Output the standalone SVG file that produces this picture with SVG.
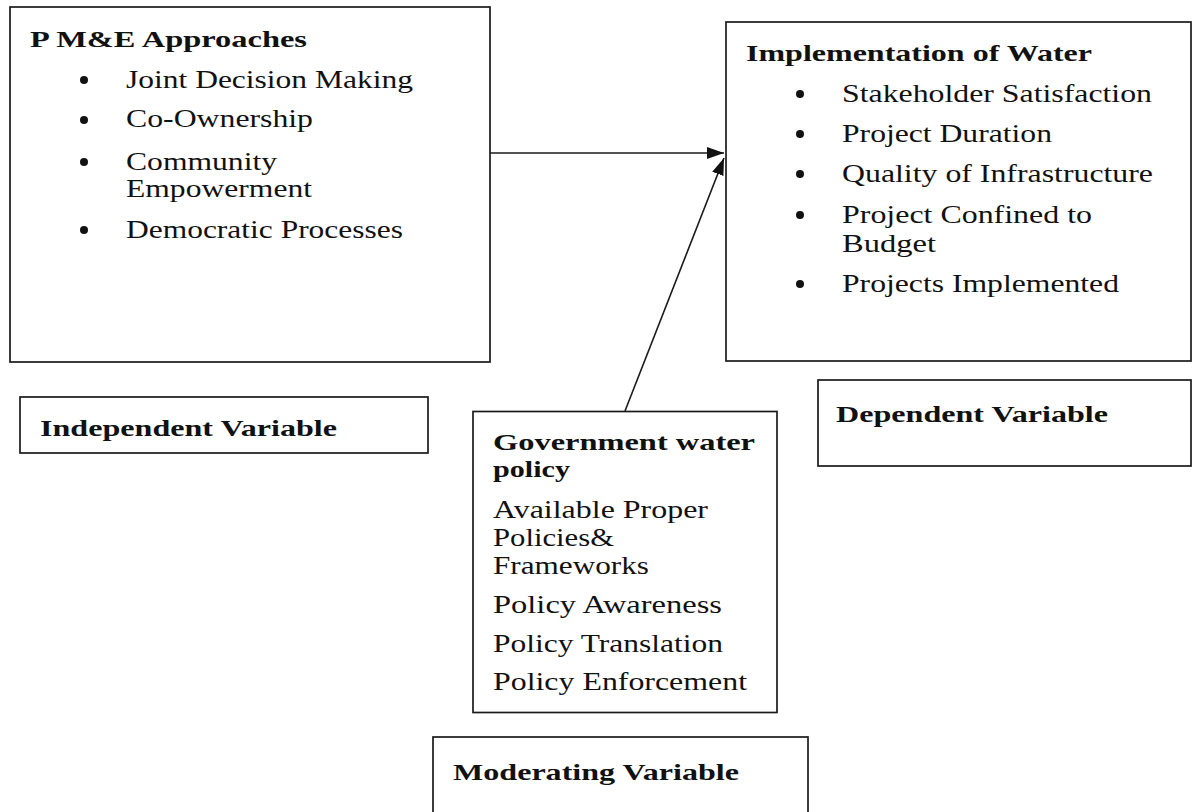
<svg xmlns="http://www.w3.org/2000/svg" width="1193" height="812" viewBox="0 0 1193 812">
<style>
.box{fill:#fff;stroke:#1a1a1a;stroke-width:1.7}
.t{font-family:"Liberation Serif","Times New Roman",serif;font-size:24.5px;fill:#111}
.b{font-family:"Liberation Serif","Times New Roman",serif;font-size:23px;font-weight:bold;fill:#111}
.dot{fill:#111}
.ln{stroke:#1a1a1a;stroke-width:1.6;fill:none}
</style>
<defs>
<marker id="ah" markerUnits="userSpaceOnUse" markerWidth="18" markerHeight="12" refX="17" refY="6" orient="auto">
<path d="M0,0 L17,6 L0,12 Z" fill="#111"/>
</marker>
</defs>
<rect width="1193" height="812" fill="#fff"/>

<g id="pme">
<rect class="box" x="10" y="7" width="480" height="355"/>
<text class="b" x="30" y="47" textLength="277" lengthAdjust="spacingAndGlyphs">P M&amp;E Approaches</text>
<circle class="dot" cx="84" cy="80" r="4"/>
<circle class="dot" cx="84" cy="120" r="4"/>
<circle class="dot" cx="84" cy="162" r="4"/>
<circle class="dot" cx="84" cy="230" r="4"/>
<text class="t" x="126" y="87.5" textLength="287" lengthAdjust="spacingAndGlyphs">Joint Decision Making</text>
<text class="t" x="126" y="127" textLength="187" lengthAdjust="spacingAndGlyphs">Co-Ownership</text>
<text class="t" x="126" y="169.5" textLength="151" lengthAdjust="spacingAndGlyphs">Community</text>
<text class="t" x="126" y="196.5" textLength="186" lengthAdjust="spacingAndGlyphs">Empowerment</text>
<text class="t" x="126" y="237.5" textLength="277" lengthAdjust="spacingAndGlyphs">Democratic Processes</text>
</g>

<g id="impl">
<rect class="box" x="726" y="22" width="465" height="339"/>
<text class="b" x="746" y="61" textLength="346" lengthAdjust="spacingAndGlyphs">Implementation  of Water</text>
<circle class="dot" cx="800" cy="94" r="4"/>
<circle class="dot" cx="800" cy="134" r="4"/>
<circle class="dot" cx="800" cy="174" r="4"/>
<circle class="dot" cx="800" cy="215" r="4"/>
<circle class="dot" cx="800" cy="284" r="4"/>
<text class="t" x="842" y="101.5" textLength="310" lengthAdjust="spacingAndGlyphs">Stakeholder Satisfaction</text>
<text class="t" x="842" y="141.5" textLength="210" lengthAdjust="spacingAndGlyphs">Project Duration</text>
<text class="t" x="842" y="181.5" textLength="311" lengthAdjust="spacingAndGlyphs">Quality of Infrastructure</text>
<text class="t" x="842" y="223" textLength="250" lengthAdjust="spacingAndGlyphs">Project Confined to</text>
<text class="t" x="842" y="251.5" textLength="94" lengthAdjust="spacingAndGlyphs">Budget</text>
<text class="t" x="842" y="291.5" textLength="277" lengthAdjust="spacingAndGlyphs">Projects Implemented</text>
</g>

<g id="indep">
<rect class="box" x="20" y="397" width="408" height="56"/>
<text class="b" x="40" y="436" textLength="297" lengthAdjust="spacingAndGlyphs">Independent Variable</text>
</g>

<g id="dep">
<rect class="box" x="818" y="380" width="373" height="86"/>
<text class="b" x="836" y="422" textLength="272" lengthAdjust="spacingAndGlyphs">Dependent Variable</text>
</g>

<g id="gov">
<rect class="box" x="473" y="411.5" width="304" height="301"/>
<text class="b" x="493" y="450" textLength="262" lengthAdjust="spacingAndGlyphs">Government  water</text>
<text class="b" x="493" y="477" textLength="77" lengthAdjust="spacingAndGlyphs">policy</text>
<text class="t" x="493" y="518" textLength="215" lengthAdjust="spacingAndGlyphs">Available Proper</text>
<text class="t" x="493" y="546" textLength="121" lengthAdjust="spacingAndGlyphs">Policies&amp;</text>
<text class="t" x="493" y="574" textLength="156" lengthAdjust="spacingAndGlyphs">Frameworks</text>
<text class="t" x="493" y="613" textLength="229" lengthAdjust="spacingAndGlyphs">Policy Awareness</text>
<text class="t" x="493" y="651.5" textLength="230" lengthAdjust="spacingAndGlyphs">Policy Translation</text>
<text class="t" x="493" y="690" textLength="254" lengthAdjust="spacingAndGlyphs">Policy Enforcement</text>
</g>

<g id="mod">
<rect class="box" x="433" y="737" width="375" height="100"/>
<text class="b" x="453" y="780" textLength="286" lengthAdjust="spacingAndGlyphs">Moderating Variable</text>
</g>

<g id="connectors">
<line class="ln" x1="490" y1="153" x2="724" y2="153" marker-end="url(#ah)"/>
<line class="ln" x1="625" y1="411" x2="724" y2="158" marker-end="url(#ah)"/>
</g>
</svg>
